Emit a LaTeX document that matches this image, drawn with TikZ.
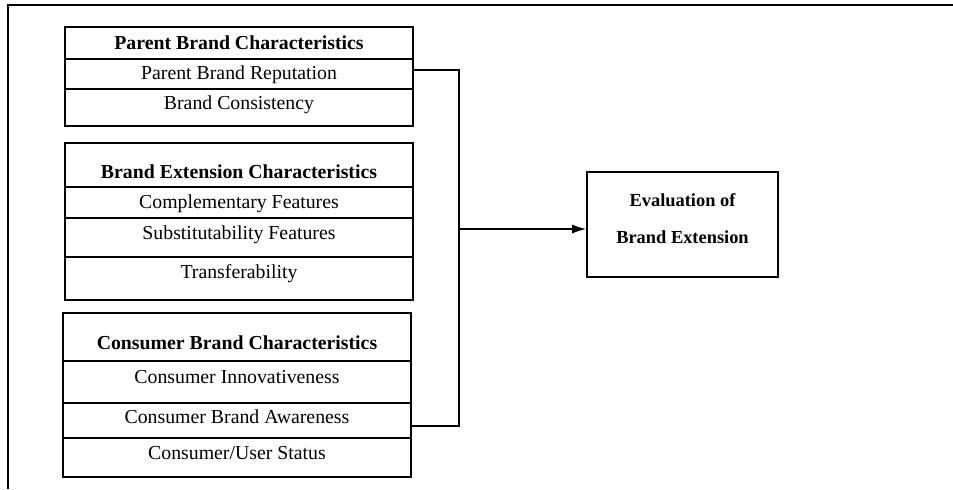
\documentclass[tikz,border=0pt]{standalone}
\usepackage{fontspec}
\setmainfont{Liberation Serif}
\usetikzlibrary{arrows.meta}

\tikzset{
  row/.style={draw,line width=0.8pt,minimum width=174pt,inner sep=0pt,
    text height=#1,text depth=0pt,font=\fontsize{9.9}{12}\selectfont},
  row/.default=6.6pt,
  head/.style={row=#1,font=\fontsize{9.9}{12}\selectfont\bfseries},
  head/.default=6.6pt,
  link/.style={line width=0.7pt}
}

\begin{document}
\begin{tikzpicture}[x=0.5pt,y=-0.5pt]
\useasboundingbox (0,0) rectangle (953,489);
\draw[line width=1pt] (953,5) -- (8,5) -- (8,489);

% parent brand
\node[head,minimum height=16pt] (pbc) at (239,43) {Parent Brand Characteristics};
\node[row=5.6pt,minimum height=15pt] (pbr) at (239,74) {Parent Brand Reputation};
\node[row=2.1pt,minimum height=18.5pt] (bcon) at (239,107.5) {Brand Consistency};

% brand extension
\node[head=13.3pt,minimum height=22pt] (bec) at (239,165) {Brand Extension Characteristics};
\node[row=5.8pt,minimum height=15.5pt] (cf) at (239,202.5) {Complementary Features};
\node[row=2.1pt,minimum height=19.5pt] (sf) at (239,237.5) {Substitutability Features};
\node[row=0.1pt,minimum height=21.5pt] (tr) at (239,278.5) {Transferability};

% consumer
\node[head=12.3pt,minimum height=24pt] (cbc) at (237,337) {Consumer Brand Characteristics};
\node[row=1.3pt,minimum height=21pt] (ci) at (237,382) {Consumer Innovativeness};
\node[row=3.1pt,minimum height=17.5pt] (cba) at (237,420.5) {Consumer Brand Awareness};
\node[row=2.1pt,minimum height=19.5pt] (cus) at (237,457.5) {Consumer/User Status};

\node[draw,line width=0.8pt,minimum width=95.5pt,minimum height=52.5pt,inner sep=0pt,
  align=center,text height=19.1pt,text depth=0pt,
  font=\fontsize{9.2}{18.5}\selectfont\bfseries] (eval) at (682.5,224.5) {Evaluation of\\Brand Extension};

\coordinate (jt) at (459,70);
\coordinate (jm) at (459,229);
\coordinate (jb) at (459,426);
\draw[link] ([yshift=2pt]pbr.east) -- (jt) -- (jb) -- ([yshift=-2.75pt]cba.east);
\draw[link,-{Latex[length=7pt,width=4.5pt]}] (jm) -- (jm -| eval.west);
\end{tikzpicture}
\end{document}
